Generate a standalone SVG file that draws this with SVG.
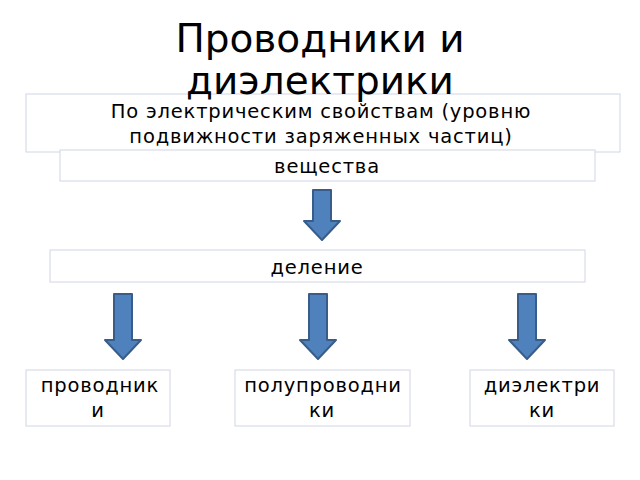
<svg xmlns="http://www.w3.org/2000/svg" width="640" height="480" viewBox="0 0 640 480">
<style>
.b{fill:#fff;stroke:#d0d8e4;stroke-width:1}
.t{font-family:"DejaVu Sans",sans-serif;fill:#000;text-anchor:middle;font-size:19.5px;letter-spacing:0.8px}
.h{font-family:"DejaVu Sans",sans-serif;fill:#000;text-anchor:middle;font-size:39px}
.a{fill:#4f81bd;stroke:#385d8a;stroke-width:2;stroke-linejoin:round}
</style>
<rect width="640" height="480" fill="#fff"/>
<g id="n1"><rect class="b" x="26" y="94" width="594" height="58"/><text class="t" x="321" y="118">По электрическим свойствам (уровню</text><text class="t" x="321" y="143">подвижности заряженных частиц)</text></g>
<g id="n2"><rect class="b" x="60" y="150" width="535" height="31"/><text class="t" x="327" y="173">вещества</text></g>
<g id="n3"><rect class="b" x="50" y="250" width="535" height="32"/><text class="t" x="317" y="274">деление</text></g>
<g id="n4"><rect class="b" x="26" y="370" width="144" height="56"/><text class="t" x="100" y="392">проводник</text><text class="t" x="98" y="417">и</text></g>
<g id="n5"><rect class="b" x="235" y="370" width="175" height="56"/><text class="t" x="323" y="392">полупроводни</text><text class="t" x="322" y="417">ки</text></g>
<g id="n6"><rect class="b" x="470" y="370" width="144" height="56"/><text class="t" x="542" y="392">диэлектри</text><text class="t" x="542" y="417">ки</text></g>
<g id="title"><text class="h" x="320" y="52">Проводники и</text><text class="h" x="320" y="94">диэлектрики</text></g>
<g id="connectors">
<path class="a" d="M313 190H331V221H340L322 240L304 221H313Z"/>
<path class="a" d="M114 294H132V340H141L123 359L105 340H114Z"/>
<path class="a" d="M309 294H327V340H336L318 359L300 340H309Z"/>
<path class="a" d="M518 294H536V340H545L527 359L509 340H518Z"/>
</g>
</svg>
